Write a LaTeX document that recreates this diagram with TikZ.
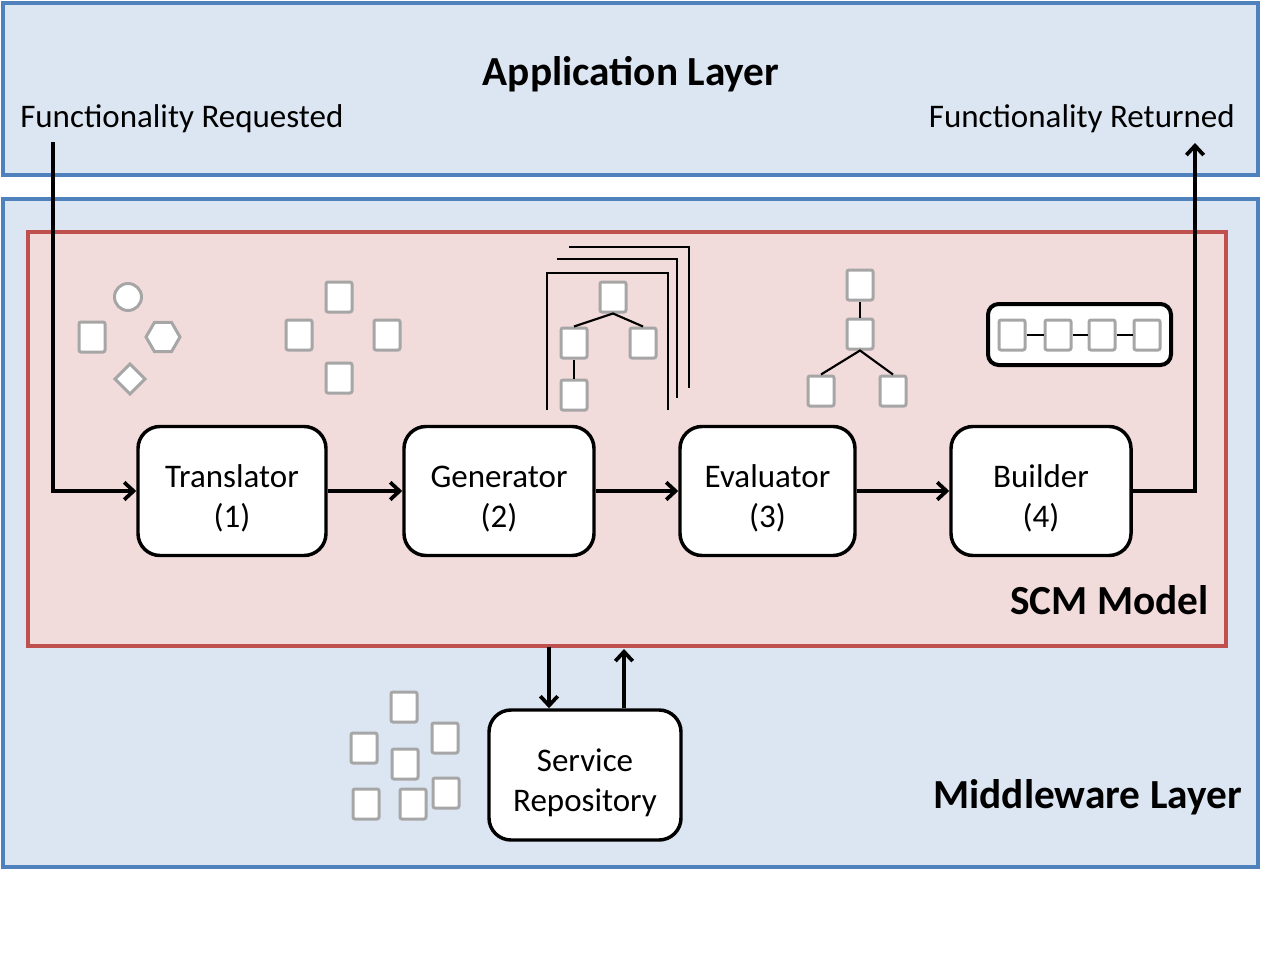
\documentclass[tikz,border=0pt]{standalone}
\usepackage{fontspec}
\setmainfont{Carlito}
\usetikzlibrary{arrows.meta,calc}
\definecolor{layerfill}{HTML}{DCE6F2}
\definecolor{layerline}{HTML}{4F81BD}
\definecolor{scmfill}{HTML}{F2DCDB}
\definecolor{scmline}{HTML}{C0504D}
\definecolor{icongray}{HTML}{A6A6A6}
\newcommand{\tstrut}{\rule{0pt}{28pt}}
\tikzset{
  layer/.style={draw=layerline,fill=layerfill,line width=2.4pt},
  scm/.style={draw=scmline,fill=scmfill,line width=2.4pt},
  procbox/.style={draw=black,fill=white,line width=2.6pt,rounded corners=16.5pt,
    minimum height=96.75pt,align=center,inner sep=0pt,
    font=\fontsize{24.75}{30}\selectfont},
  sq/.style={draw=icongray,fill=white,line width=2.25pt,rounded corners=1.5pt,
    minimum width=19.5pt,minimum height=22.5pt,inner sep=0pt},
  gshape/.style={draw=icongray,fill=white,line width=2.25pt},
  thin/.style={draw=black,line width=1.6pt},
  arr/.style={draw=black,line width=2.8pt,-{Straight Barb[length=7pt,width=13pt,line width=2.8pt]}},
  plain/.style={font=\fontsize{24.75}{30}\selectfont,inner sep=0pt},
  title/.style={font=\fontsize{31}{36}\selectfont\bfseries,inner sep=0pt},
}
\begin{document}
\begin{tikzpicture}[x=0.75pt,y=-0.75pt]
\useasboundingbox (0,0) rectangle (1262,959);
% layers
\draw[layer] (3,3) rectangle (1258,175);
\draw[layer] (3,199) rectangle (1258,867);
\draw[scm] (28,232) rectangle (1226,646);
% titles
\node[title,anchor=base] (apptitle) at (631,86) {Application Layer};
\node[plain,anchor=base west] (freq) at (20,128) {Functionality Requested};
\node[plain,anchor=base east] (fret) at (1235,128) {Functionality Returned};
\node[title,anchor=base east] (scmtitle) at (1209,614) {SCM Model};
\node[title,anchor=base east] (mwtitle) at (1242,808) {Middleware Layer};
% process boxes
\node[procbox,minimum width=141pt] (trans) at (232,491) {\tstrut Translator\\(1)};
\node[procbox,minimum width=142.5pt] (gen) at (499,491) {\tstrut Generator\\(2)};
\node[procbox,minimum width=131.25pt] (eval) at (767.5,491) {\tstrut Evaluator\\(3)};
\node[procbox,minimum width=135pt] (build) at (1041,491) {\tstrut Builder\\(4)};
\node[procbox,minimum width=144pt,minimum height=97.5pt] (repo) at (585,775) {\tstrut Service\\Repository};
% connectors
\coordinate (in) at (53,142);
\coordinate (out) at (1195,143);
\draw[arr] (in) |- (trans.west);
\draw[arr] (trans) -- (gen);
\draw[arr] (gen) -- (eval);
\draw[arr] (eval) -- (build);
\draw[arr] (build.east) -| (out);
\coordinate (dtop) at (549,647);
\coordinate (utop) at (624,649);
\draw[arr] (dtop) -- (dtop |- repo.north);
\draw[arr] (utop |- repo.north) -- (utop);
% icon group 1: mixed shapes
\draw[gshape] (128,297) circle (13.5);
\node[sq] (g1sq) at (92,337) {};
\draw[gshape] (146,337) -- (154.5,322.3) -- (171.5,322.3) -- (180,337) -- (171.5,351.7) -- (154.5,351.7) -- cycle;
\draw[gshape] (130,364) -- (145,379) -- (130,394) -- (115,379) -- cycle;
% icon group 2: four squares
\node[sq] (g2a) at (339,297) {};
\node[sq] (g2b) at (299,335) {};
\node[sq] (g2c) at (387,335) {};
\node[sq] (g2d) at (339,378) {};
% icon group 3: stacked frames with tree
\draw[thin] (569,247) -- (689,247) -- (689,388);
\draw[thin] (557,259) -- (677,259) -- (677,398);
\draw[thin] (547,410) -- (547,273) -- (668,273) -- (668,410);
\node[sq] (t1) at (613,297) {};
\node[sq] (t2) at (574,343) {};
\node[sq] (t3) at (643,343) {};
\node[sq] (t4) at (574,395) {};
\draw[thin] (t2.north) -- (t1.south) -- (t3.north);
\draw[thin] (t2) -- (t4);
% icon group 4: tree
\node[sq] (e1) at (860,285) {};
\node[sq] (e2) at (860,334) {};
\node[sq] (e3) at (821,391) {};
\node[sq] (e4) at (893,391) {};
\draw[thin] (e1) -- (e2);
\draw[thin] (e3.north) -- (e2.south) -- (e4.north);
% icon group 5: chain in rounded box
\draw[draw=black,fill=white,line width=3pt,rounded corners=8pt] (988,304) rectangle (1171,365);
\node[sq] (c1) at (1012,335) {};
\node[sq] (c2) at (1058,335) {};
\node[sq] (c3) at (1102,335) {};
\node[sq] (c4) at (1147,335) {};
\draw[thin] (c1) -- (c2);
\draw[thin] (c2) -- (c3);
\draw[thin] (c3) -- (c4);
% icon group 6: scattered squares
\node[sq] (r1) at (404,707) {};
\node[sq] (r2) at (364,748) {};
\node[sq] (r3) at (445,738) {};
\node[sq] (r4) at (405,764) {};
\node[sq] (r5) at (366,804) {};
\node[sq] (r6) at (413,804) {};
\node[sq] (r7) at (446,793) {};
\end{tikzpicture}
\end{document}
